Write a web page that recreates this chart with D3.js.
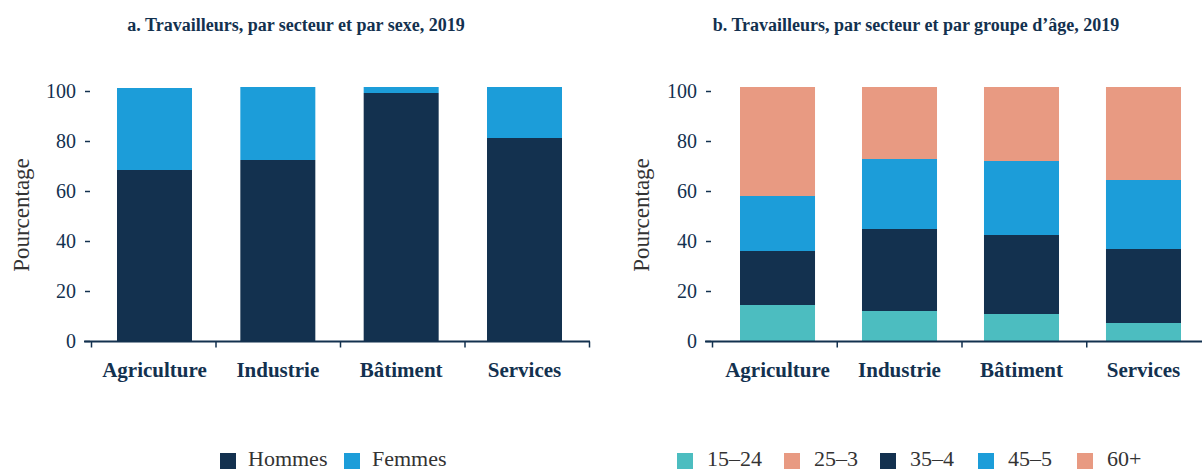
<!DOCTYPE html>
<html lang="fr">
<head>
<meta charset="UTF-8">
<title>Travailleurs par secteur</title>
<script src="https://cdn.jsdelivr.net/npm/d3@7"></script>
<style>
    body { margin: 0; background: #fff; }
    svg text { font-family: "Liberation Serif", "DejaVu Serif", serif; }
    .title { font-weight: bold; font-size: 18px; fill: #13314f; }
    .tick text { font-size: 20px; fill: #13314f; }
    .cat { font-weight: bold; font-size: 21px; fill: #13314f; }
    .ylab { font-size: 23px; fill: #333; }
    .leg { font-size: 22px; fill: #333; }
</style>
</head>
<body>
<svg id="chart" width="1202" height="471"></svg>
<script>
    var sectors = ['Agriculture', 'Industrie', 'Bâtiment', 'Services'];

    // panel a
    var sexKeys = ['Hommes', 'Femmes'];
    var hommes = [68.4, 72.4, 99.2, 81.2];
    var femmes = [32.8, 29.2, 2.4, 20.4];

    // panel b
    var ageKeys = ['15–24', '25–3', '35–4', '45–5', '60+'];
    var age15 = [14.4, 12.0, 10.8, 7.2];
    var age25 = [0, 0, 0, 0];
    var age35 = [21.6, 32.8, 31.6, 29.6];
    var age45 = [22.0, 28.0, 29.6, 27.6];
    var age60 = [43.6, 28.8, 29.6, 37.2];

    var yTicks = [0, 20, 40, 60, 80, 100];

    var NAVY = '#13314f', BLUE = '#1c9dd9', TEAL = '#4cbdc0', SALMON = '#e89a82';

    var svg = d3.select('#chart');

    function panel(opts) {
        var rows = sectors.map(function (s, i) {
            var r = {sector: s};
            opts.keys.forEach(function (k, j) { r[k] = opts.series[j][i]; });
            return r;
        });
        var stacked = d3.stack().keys(opts.keys)(rows);

        var y = d3.scaleLinear().domain([0, 100]).range([341, 91]);
        var x = d3.scaleBand().domain(sectors)
                .range(opts.barRange).paddingInner(opts.pad).paddingOuter(0);
        var color = d3.scaleOrdinal().domain(opts.keys).range(opts.colors);

        var g = svg.append('g');

        g.append('text').attr('class', 'title')
                .attr('x', opts.titleX).attr('y', 31)
                .attr('text-anchor', 'middle').text(opts.title);

        g.selectAll('.layer').data(stacked).enter().append('g')
                .attr('fill', function (d) { return color(d.key); })
                .selectAll('rect').data(function (d) { return d; }).enter().append('rect')
                .attr('x', function (d) { return x(d.data.sector); })
                .attr('width', x.bandwidth())
                .attr('y', function (d) { return y(d[1]); })
                .attr('height', function (d) { return y(d[0]) - y(d[1]); });

        // y axis: ticks only
        var yAxisG = g.append('g')
                .attr('transform', 'translate(' + opts.yAxisX + ',0)')
                .call(d3.axisLeft(y).tickValues(yTicks).tickSize(6).tickPadding(9));
        yAxisG.attr('font-family', null).attr('font-size', null);
        yAxisG.select('.domain').remove();
        yAxisG.selectAll('.tick line').attr('stroke', NAVY).attr('stroke-width', 1.5)
                .attr('x1', -1);

        // x axis with ticks between categories
        var tx = d3.scaleLinear().domain([0, 4]).range(opts.tickRange);
        var xAxisG = g.append('g')
                .attr('transform', 'translate(0,341.5)')
                .call(d3.axisBottom(tx).tickValues([0, 1, 2, 3, 4]).tickSize(6).tickFormat(''));
        xAxisG.select('.domain').remove();
        xAxisG.selectAll('.tick line').attr('stroke', NAVY).attr('stroke-width', 1.5);
        xAxisG.append('line')
                .attr('x1', opts.lineRange[0]).attr('x2', opts.lineRange[1])
                .attr('stroke', NAVY).attr('stroke-width', 2);

        g.selectAll('.cat').data(sectors).enter().append('text')
                .attr('class', 'cat')
                .attr('x', function (d) { return x(d) + x.bandwidth() / 2; })
                .attr('y', 377)
                .attr('text-anchor', 'middle')
                .text(function (d) { return d; });

        g.append('text').attr('class', 'ylab')
                .attr('transform', 'translate(' + opts.ylabX + ',215)rotate(-90)')
                .attr('text-anchor', 'middle').text('Pourcentage');

        // legend (sits at the bottom edge, like the source)
        var leg = g.selectAll('.legitem').data(opts.keys).enter().append('g')
                .attr('transform', function (d, i) { return 'translate(' + opts.legX[i] + ',453)'; });
        leg.append('rect').attr('width', 16).attr('height', 16)
                .attr('fill', function (d) { return color(d); });
        leg.append('text').attr('class', 'leg')
                .attr('x', opts.legGap).attr('y', 13)
                .text(function (d) { return d; });
    }

    panel({
        title: 'a. Travailleurs, par secteur et par sexe, 2019',
        titleX: 296,
        keys: sexKeys,
        series: [hommes, femmes],
        colors: [NAVY, BLUE],
        barRange: [117, 562],
        pad: 0.392,
        yAxisX: 91,
        tickRange: [91, 589],
        lineRange: [84, 590],
        ylabX: 29,
        legX: [220, 344],
        legGap: 28
    });

    panel({
        title: 'b. Travailleurs, par secteur et par groupe d’âge, 2019',
        titleX: 916,
        keys: ageKeys,
        series: [age15, age25, age35, age45, age60],
        colors: [TEAL, SALMON, NAVY, BLUE, SALMON],
        barRange: [740, 1181],
        pad: 0.385,
        yAxisX: 712,
        tickRange: [712, 1211],
        lineRange: [705, 1202],
        ylabX: 649,
        legX: [677, 784, 880, 978, 1077],
        legGap: 30
    });
</script>
</body>
</html>
